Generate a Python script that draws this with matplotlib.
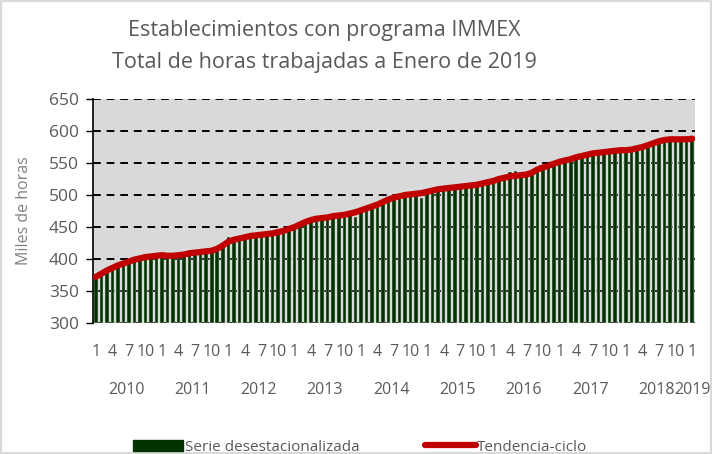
import matplotlib.pyplot as plt
import matplotlib.patches as mpatches
import matplotlib.lines as mlines
import numpy as np

# monthly data, Jan 2010 .. Jan 2019 (miles de horas)
years = [2010, 2011, 2012, 2013, 2014, 2015, 2016, 2017, 2018, 2019]
serie = [368, 374, 379, 383, 387, 391, 394, 397, 399, 401, 403, 404,
         409, 403, 403, 404, 405, 406, 408, 409, 410, 411, 414, 419,
         435, 428, 430, 432, 434, 435, 436, 437, 438, 440, 442, 445,
         449, 452, 456, 459, 461, 462, 463, 465, 466, 467, 469, 466,
         474, 477, 480, 483, 487, 491, 494, 496, 498, 499, 500, 495,
         503, 505, 507, 508, 509, 510, 511, 512, 513, 514, 516, 518,
         520, 523, 525, 536, 537, 529, 530, 533, 538, 541, 544, 547,
         550, 552, 554, 557, 559, 561, 563, 564, 565, 566, 567, 568,
         568, 569, 571, 573, 576, 579, 582, 584, 585, 585, 585, 585,
         586]
tendencia = [372, 377, 382, 386, 390, 393, 396, 399, 401, 403, 404, 405,
             406, 405, 405, 406, 407, 409, 410, 411, 412, 413, 416, 421,
             427, 430, 432, 434, 436, 437, 438, 439, 440, 442, 444, 447,
             450, 454, 458, 461, 463, 464, 465, 467, 468, 469, 471, 473,
             476, 479, 482, 485, 489, 493, 496, 498, 500, 501, 502, 503,
             505, 507, 509, 510, 511, 512, 513, 514, 515, 516, 518, 520,
             522, 525, 527, 529, 530, 531, 532, 535, 540, 543, 546, 549,
             552, 554, 556, 559, 561, 563, 565, 566, 567, 568, 569, 570,
             570, 571, 573, 575, 578, 581, 584, 586, 587, 587, 587, 587,
             588]
month_labels = ['1', '4', '7', '10']

x = np.arange(len(serie))

fig = plt.figure(figsize=(7.12, 4.54), dpi=100)
plt.rcParams['font.family'] = ['Open Sans', 'DejaVu Sans']
ax = fig.add_axes([93/712, 131/454, 602/712, 224/454])
ax.set_facecolor('#d9d9d9')

ax.bar(x, np.array(serie) - 300, bottom=300, width=0.64, color='#003300',
       edgecolor='#e6e6e6', linewidth=0.3, zorder=2)
ax.plot(x, tendencia, color='#c00000', linewidth=4.5, solid_capstyle='round', zorder=3)

ax.set_ylim(300, 650)
ax.set_xlim(-0.5, len(serie) - 0.5)
ax.set_yticks(range(300, 651, 50))
for v in range(300, 651, 50):
    ax.axhline(v, color='black', linestyle=(0, (4, 3)), linewidth=1.4, zorder=1)

# month ticks
ticks = [i for i in x if i % 3 == 0]
ax.set_xticks(ticks)
ax.set_xticklabels([month_labels[(i % 12) // 3] for i in ticks])
ax.tick_params(axis='x', length=0, pad=15, labelsize=11.5, labelcolor='#595959')
ax.tick_params(axis='y', length=5, width=1, color='black', labelsize=12.5,
               labelcolor='#595959', pad=5)

for s in ['top', 'right', 'bottom']:
    ax.spines[s].set_visible(False)
ax.spines['left'].set_color('black')
ax.spines['left'].set_linewidth(1.2)

# year labels
trans = ax.get_xaxis_transform()
for k, yr in enumerate(years):
    first = k * 12
    last = min(first + 11, len(serie) - 1)
    ax.text((first + last) / 2, -0.3, str(yr), transform=trans, ha='center',
            va='center', fontsize=11.5, color='#595959')

ax.set_ylabel('Miles de horas', fontsize=11.5, color='#808080', labelpad=12)

fig.text(0.455, 0.932, 'Establecimientos con programa IMMEX', ha='center',
         va='center', fontsize=15.5, color='#595959')
fig.text(0.455, 0.862, 'Total de horas trabajadas a Enero de 2019', ha='center',
         va='center', fontsize=15.5, color='#595959')

h1 = mpatches.Patch(color='#003300', label='Serie desestacionalizada')
h2 = mlines.Line2D([], [], color='#c00000', linewidth=4.5, solid_capstyle='round',
                   label='Tendencia-ciclo')
fig.legend(handles=[h1, h2], loc='center', bbox_to_anchor=(0.506, 0.015), ncol=2,
           frameon=False, fontsize=11, handlelength=3.3, handletextpad=0.1,
           columnspacing=4.3, labelcolor='#595959')

fig.patches.append(mpatches.Rectangle((0, 0), 1, 1, transform=fig.transFigure,
                                      fill=False, edgecolor='#d9d9d9', linewidth=3))

fig.savefig('out.png', dpi=100)
